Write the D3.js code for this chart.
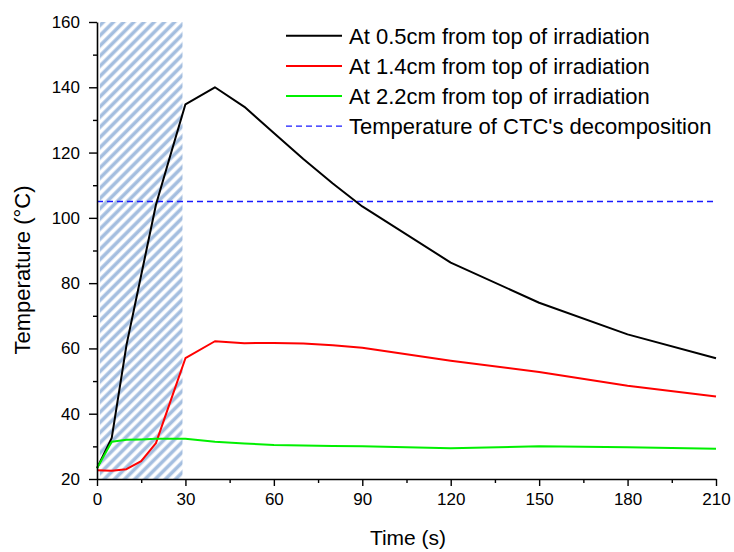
<!DOCTYPE html>
<html>
<head>
<meta charset="utf-8">
<script src="https://cdn.jsdelivr.net/npm/d3@7"></script>
<style>
  html, body { margin: 0; padding: 0; background: #fff; }
  svg { display: block; font-family: Arial, "Liberation Sans", sans-serif; }
</style>
</head>
<body>
<svg id="chart" width="734" height="552"></svg>
<script>
// ---- data ----
const time = [0, 5, 10, 15, 20, 25, 30, 40, 50, 60, 70, 80, 90, 120, 150, 180, 210];
const temp05 = [23.3, 32.6, 61, 82.5, 104, 119.5, 134.8, 140, 134, 126, 118, 110.5, 103.5, 86.3, 74, 64.3, 57];
const temp14 = [22.7, 22.5, 23, 25.5, 31, 44, 57, 62.2, 61.6, 61.7, 61.5, 61, 60.2, 56.2, 52.8, 48.6, 45.3];
const temp22 = [23.3, 31.4, 32, 32.1, 32.3, 32.3, 32.3, 31.4, 30.9, 30.4, 30.3, 30.1, 30, 29.4, 30, 29.7, 29.3];
const decompTemp = 105;
const irradiation = [1, 29];
const seriesNames = ["At 0.5cm from top of irradiation", "At 1.4cm from top of irradiation", "At 2.2cm from top of irradiation", "Temperature of CTC's decomposition"];
const seriesColors = ["#000000", "#ff0000", "#00f000", "#1a1aff"];
const xTicks = [0, 30, 60, 90, 120, 150, 180, 210];
const yTicks = [20, 40, 60, 80, 100, 120, 140, 160];

// ---- chart ----
const svg = d3.select("#chart");
const x = d3.scaleLinear().domain([0, 210]).range([97, 716]);
const y = d3.scaleLinear().domain([20, 160]).range([479, 22]);

// hatch pattern
const defs = svg.append("defs");
const pat = defs.append("pattern")
  .attr("id", "hatch").attr("patternUnits", "userSpaceOnUse")
  .attr("width", 7.2).attr("height", 10)
  .attr("patternTransform", "rotate(45)");
pat.append("rect").attr("x", 0).attr("y", 0).attr("width", 7.2).attr("height", 10).attr("fill", "#ffffff");
pat.append("rect").attr("x", 0.2).attr("y", 0).attr("width", 4.0).attr("height", 10).attr("fill", "#c8d8ed");
pat.append("rect").attr("x", 0.8).attr("y", 0).attr("width", 2.8).attr("height", 10).attr("fill", "#a4bedf");

svg.append("rect")
  .attr("x", x(irradiation[0])).attr("y", y(160))
  .attr("width", x(irradiation[1]) - x(irradiation[0]))
  .attr("height", y(20) - y(160))
  .attr("fill", "url(#hatch)");

// decomposition line
svg.append("line")
  .attr("x1", x(0)).attr("x2", x(210))
  .attr("y1", y(decompTemp)).attr("y2", y(decompTemp))
  .attr("stroke", seriesColors[3]).attr("stroke-width", 1.4)
  .attr("stroke-dasharray", "6,4");

// series lines
const line = d3.line().x(d => x(d[0])).y(d => y(d[1]));
[temp05, temp14, temp22].forEach((vals, i) => {
  svg.append("path")
    .datum(time.map((t, j) => [t, vals[j]]))
    .attr("d", line)
    .attr("fill", "none")
    .attr("stroke", seriesColors[i])
    .attr("stroke-width", 2)
    .attr("stroke-linejoin", "round");
});

// axes
svg.append("g").attr("transform", `translate(0,${y(20)})`)
  .call(d3.axisBottom(x).tickValues(xTicks).tickSize(7).tickSizeOuter(0).tickPadding(7));
svg.append("g").attr("transform", `translate(0,${y(20)})`)
  .call(d3.axisBottom(x).tickValues(d3.range(15, 210, 30)).tickSize(4).tickFormat("").tickSizeOuter(0))
  .select(".domain").remove();
svg.append("g").attr("transform", `translate(${x(0)},0)`)
  .call(d3.axisLeft(y).tickValues(yTicks).tickSize(8).tickSizeOuter(0).tickPadding(9));
svg.append("g").attr("transform", `translate(${x(0)},0)`)
  .call(d3.axisLeft(y).tickValues(d3.range(30, 160, 20)).tickSize(4).tickFormat("").tickSizeOuter(0))
  .select(".domain").remove();

svg.selectAll(".domain").attr("stroke-width", 1.6).attr("stroke", "#000");
svg.selectAll(".tick line").attr("stroke-width", 1.4).attr("stroke", "#000");
svg.selectAll(".tick text").attr("font-size", 17).attr("font-family", "Arial, 'Liberation Sans', sans-serif").attr("fill", "#000");

// axis titles
svg.append("text").attr("x", 408).attr("y", 545)
  .attr("text-anchor", "middle").attr("font-size", 21).text("Time (s)");
svg.append("text").attr("transform", `translate(30,270) rotate(-90)`)
  .attr("text-anchor", "middle").attr("font-size", 22).text("Temperature (°C)");

// legend
const legend = svg.append("g");
seriesNames.forEach((name, i) => {
  const ly = 35.8 + i * 30.1;
  legend.append("line")
    .attr("x1", 286).attr("x2", 342).attr("y1", ly).attr("y2", ly)
    .attr("stroke", seriesColors[i])
    .attr("stroke-width", i === 3 ? 1.4 : 2)
    .attr("stroke-dasharray", i === 3 ? "6,4" : null);
  legend.append("text").attr("x", 349).attr("y", ly + 7.7)
    .attr("font-size", 22).attr("fill", "#000").text(name);
});
</script>
</body>
</html>
